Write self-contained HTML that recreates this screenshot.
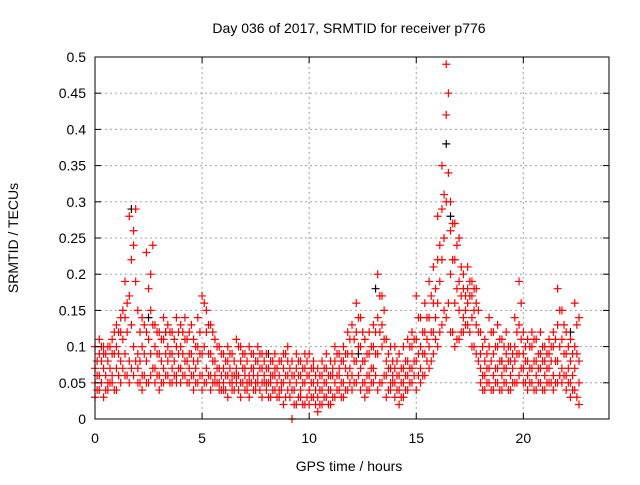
<!DOCTYPE html>
<html><head><meta charset="utf-8"><style>
body{margin:0;background:#fff}
svg{font-family:"Liberation Sans",sans-serif}
</style></head><body>
<svg id="chart" width="640" height="480" xmlns="http://www.w3.org/2000/svg">
<rect width="640" height="480" fill="#fff"/>
<text x="349" y="33" font-size="14" text-anchor="middle" fill="#000">Day 036 of 2017, SRMTID for receiver p776</text>
<text x="349" y="471" font-size="14" text-anchor="middle" fill="#000">GPS time / hours</text>
<text transform="translate(18,238) rotate(-90)" font-size="14" text-anchor="middle" fill="#000">SRMTID / TECUs</text>
<g id="grid"></g><g id="marks"></g><g id="axes"></g>
</svg>
<script>
const times=[0,0.2,0.4,0.6,0.8,1,1.2,1.4,1.6,1.8,2,2.2,2.4,2.6,2.8,3,3.2,3.4,3.6,3.8,4,4.2,4.4,4.6,4.8,5,5.2,5.4,5.6,5.8,6,6.2,6.4,6.6,6.8,7,7.2,7.4,7.6,7.8,8,8.2,8.4,8.6,8.8,9,9.2,9.4,9.6,9.8,10,10.2,10.4,10.6,10.8,11,11.2,11.4,11.6,11.8,12,12.2,12.4,12.6,12.8,13,13.2,13.4,13.6,13.8,14,14.2,14.4,14.6,14.8,15,15.2,15.4,15.6,15.8,16,16.2,16.4,16.6,16.8,17,17.2,17.4,17.6,17.8,18,18.2,18.4,18.6,18.8,19,19.2,19.4,19.6,19.8,20,20.2,20.4,20.6,20.8,21,21.2,21.4,21.6,21.8,22,22.2,22.4,22.6];
const lowVals=[.03,.04,.03,.04,.05,.04,.05,.06,.05,.06,.05,.04,.05,.06,.05,.04,.05,.06,.05,.05,.05,.06,.05,.04,.05,.04,.05,.04,.05,.04,.04,.03,.04,.05,.03,.04,.03,.04,.05,.03,.04,.03,.04,.03,.02,.04,0,.02,.03,.02,.02,.03,.01,.02,.03,.02,.03,.04,.03,.04,.04,.05,.04,.03,.04,.05,.04,.05,.03,.04,.03,.02,.03,.04,.05,.04,.05,.06,.07,.09,.10,.13,.14,.12,.10,.11,.12,.13,.10,.09,.05,.04,.05,.04,.05,.04,.05,.04,.05,.06,.05,.04,.05,.04,.05,.04,.05,.04,.05,.05,.04,.03,.04,.02];
const midVals=[.05,.06,.07,.05,.06,.07,.08,.09,.08,.10,.07,.06,.08,.09,.07,.06,.07,.08,.07,.06,.07,.08,.07,.06,.08,.06,.07,.06,.06,.05,.05,.06,.05,.06,.05,.06,.05,.06,.06,.05,.05,.05,.06,.04,.05,.06,.04,.05,.04,.05,.04,.05,.03,.04,.05,.04,.05,.06,.05,.06,.06,.08,.07,.05,.06,.07,.09,.10,.06,.05,.05,.04,.05,.06,.07,.08,.07,.09,.10,.12,.16,.22,.30,.20,.16,.15,.14,.16,.14,.13,.07,.06,.07,.06,.07,.06,.07,.06,.08,.09,.07,.06,.07,.06,.07,.06,.07,.06,.08,.07,.06,.05,.07,.05];
const mid2Vals=[.07,.09,.10,.08,.09,.10,.12,.14,.17,.24,.09,.10,.12,.15,.10,.09,.11,.10,.09,.10,.10,.11,.09,.08,.10,.09,.12,.09,.08,.07,.07,.08,.06,.07,.08,.07,.06,.07,.08,.07,.07,.06,.07,.06,.07,.08,.06,.07,.06,.07,.06,.07,.05,.06,.07,.06,.08,.07,.08,.09,.09,.12,.10,.08,.09,.10,.14,.13,.08,.07,.07,.06,.07,.08,.10,.11,.10,.12,.14,.16,.22,.29,.42,.26,.22,.19,.18,.18,.17,.16,.09,.08,.10,.09,.10,.08,.09,.08,.10,.13,.09,.08,.10,.08,.09,.08,.09,.10,.13,.11,.09,.08,.10,.08];
const highVals=[.10,.11,.09,.10,.11,.13,.14,.19,.28,.26,.15,.14,.23,.20,.13,.12,.14,.13,.12,.14,.13,.14,.12,.11,.14,.17,.15,.13,.11,.10,.09,.10,.09,.11,.10,.09,.10,.09,.10,.09,.09,.08,.09,.08,.09,.10,.08,.09,.08,.09,.09,.08,.07,.08,.09,.08,.10,.09,.10,.12,.13,.16,.14,.11,.12,.13,.20,.17,.11,.10,.10,.09,.10,.11,.12,.17,.14,.16,.19,.21,.28,.35,.49,.30,.27,.25,.20,.21,.19,.18,.12,.11,.14,.12,.13,.11,.12,.10,.14,.19,.12,.11,.12,.11,.12,.10,.11,.12,.18,.15,.12,.11,.16,.14];
const times2=[0.1,0.3,0.5,0.7,0.9,1.1,1.3,1.5,1.7,1.9,2.1,2.3,2.5,2.7,2.9,3.1,3.3,3.5,3.7,3.9,4.1,4.3,4.5,4.7,4.9,5.1,5.3,5.5,5.7,5.9,6.1,6.3,6.5,6.7,6.9,7.1,7.3,7.5,7.7,7.9,8.1,8.3,8.5,8.7,8.9,9.1,9.3,9.5,9.7,9.9,10.1,10.3,10.5,10.7,10.9,11.1,11.3,11.5,11.7,11.9,12.1,12.3,12.5,12.7,12.9,13.1,13.3,13.5,13.7,13.9,14.1,14.3,14.5,14.7,14.9,15.1,15.3,15.5,15.7,15.9,16.1,16.3,16.5,16.7,16.9,17.1,17.3,17.5,17.7,17.9,18.1,18.3,18.5,18.7,18.9,19.1,19.3,19.5,19.7,19.9,20.1,20.3,20.5,20.7,20.9,21.1,21.3,21.5,21.7,21.9,22.1,22.3,22.5];
const aVals=[.04,.05,.04,.05,.04,.06,.07,.06,.07,.08,.05,.06,.05,.07,.06,.05,.06,.05,.06,.07,.06,.05,.06,.05,.06,.05,.06,.05,.05,.04,.04,.05,.04,.04,.05,.04,.05,.04,.04,.05,.03,.04,.03,.04,.03,.03,.02,.03,.02,.03,.03,.02,.02,.03,.02,.03,.04,.03,.04,.05,.05,.06,.05,.04,.05,.06,.05,.06,.04,.05,.04,.03,.04,.05,.06,.06,.06,.08,.08,.11,.12,.15,.16,.12,.11,.12,.13,.12,.10,.08,.04,.05,.04,.05,.04,.05,.04,.05,.05,.07,.05,.05,.04,.05,.04,.05,.05,.05,.06,.06,.05,.04,.03];
const bVals=[.06,.08,.06,.07,.09,.09,.11,.12,.13,.19,.08,.09,.11,.13,.09,.08,.09,.09,.08,.09,.09,.08,.09,.07,.09,.10,.09,.08,.07,.06,.06,.07,.06,.06,.07,.05,.07,.05,.07,.06,.05,.06,.05,.05,.06,.05,.04,.06,.05,.06,.05,.04,.04,.05,.04,.06,.06,.05,.07,.07,.08,.10,.08,.06,.07,.09,.12,.11,.07,.06,.06,.05,.06,.07,.08,.09,.09,.11,.12,.14,.19,.25,.34,.22,.18,.17,.15,.17,.15,.12,.06,.07,.08,.07,.08,.07,.08,.07,.09,.11,.08,.07,.08,.07,.08,.07,.08,.08,.10,.09,.07,.06,.09];
const cVals=[.08,.10,.09,.10,.12,.12,.15,.16,.22,.29,.12,.13,.18,.24,.12,.11,.12,.12,.11,.12,.12,.11,.13,.10,.12,.16,.13,.12,.10,.09,.08,.09,.08,.10,.09,.08,.09,.08,.09,.08,.07,.08,.07,.08,.09,.07,.06,.08,.07,.08,.07,.06,.06,.07,.06,.07,.09,.08,.09,.11,.11,.14,.12,.09,.10,.12,.17,.15,.09,.08,.08,.07,.08,.10,.11,.14,.12,.14,.17,.18,.24,.31,.45,.27,.24,.21,.17,.19,.18,.15,.10,.09,.12,.10,.11,.10,.10,.09,.12,.16,.10,.10,.11,.09,.10,.09,.10,.11,.15,.13,.10,.09,.13];
const blackTimes=[1.7,2.5,3.3,8.1,12.3,13.1,16.4,16.6,19.0,22.2];
const blackVals=[.29,.14,.12,.09,.09,.18,.38,.28,.08,.12];
const xTicks=[0,5,10,15,20];
const yTicks=[0,0.05,0.1,0.15,0.2,0.25,0.3,0.35,0.4,0.45,0.5];
const yLabels=["0","0.05","0.1","0.15","0.2","0.25","0.3","0.35","0.4","0.45","0.5"];
const X0=95,X1=609,Y0=419,Y1=57,XMAX=24,YMAX=0.5;
const xs=v=>X0+(X1-X0)*v/XMAX, ys=v=>Y0-(Y0-Y1)*v/YMAX;
const NS="http://www.w3.org/2000/svg";
function mk(tag,attrs,parent){const e=document.createElementNS(NS,tag);for(const k in attrs)e.setAttribute(k,attrs[k]);parent.appendChild(e);return e;}
const grid=document.getElementById('grid'),axes=document.getElementById('axes'),marks=document.getElementById('marks');
xTicks.forEach((t,i)=>{const x=xs(t);
 if(t>0){const g=mk('line',{x1:x,x2:x,y1:Y1,y2:Y0,stroke:'#a0a0a0','stroke-dasharray':'2,3'},grid);
 
 }
 mk('line',{x1:x,x2:x,y1:Y0,y2:Y0-6,stroke:'#000'},axes);
 mk('line',{x1:x,x2:x,y1:Y1,y2:Y1+6,stroke:'#000'},axes);
 const l=mk('text',{x:x,y:Y0+24,'font-size':14,'text-anchor':'middle'},axes);l.textContent=t;
 
 });
yTicks.forEach((t,i)=>{const y=ys(t);
 if(t>0&&t<0.5){const g=mk('line',{x1:X0,x2:X1,y1:y,y2:y,stroke:'#a0a0a0','stroke-dasharray':'2,3'},grid);
 
 }
 mk('line',{x1:X0,x2:X0+6,y1:y,y2:y,stroke:'#000'},axes);
 mk('line',{x1:X1,x2:X1-6,y1:y,y2:y,stroke:'#000'},axes);
 const l=mk('text',{x:X0-9,y:y+5,'font-size':14,'text-anchor':'end'},axes);l.textContent=yLabels[i];
 
 });
const frame=mk('rect',{x:X0,y:Y1,width:X1-X0,height:Y0-Y1,fill:'none',stroke:'#000'},axes);


function plus(t,v,c){const x=xs(t),y=ys(v);
 const p=mk('path',{d:`M${x-4},${y}h8M${x},${y-4}v8`,stroke:c,'stroke-width':1.2,fill:'none'},marks);
 
 }
blackTimes.forEach((t,i)=>plus(t,blackVals[i],'#000'));
[lowVals,midVals,mid2Vals,highVals].forEach(s=>times.forEach((t,i)=>plus(t,s[i],'#f00')));
[aVals,bVals,cVals].forEach(s=>times2.forEach((t,i)=>plus(t,s[i],'#f00')));
</script>
</body></html>
